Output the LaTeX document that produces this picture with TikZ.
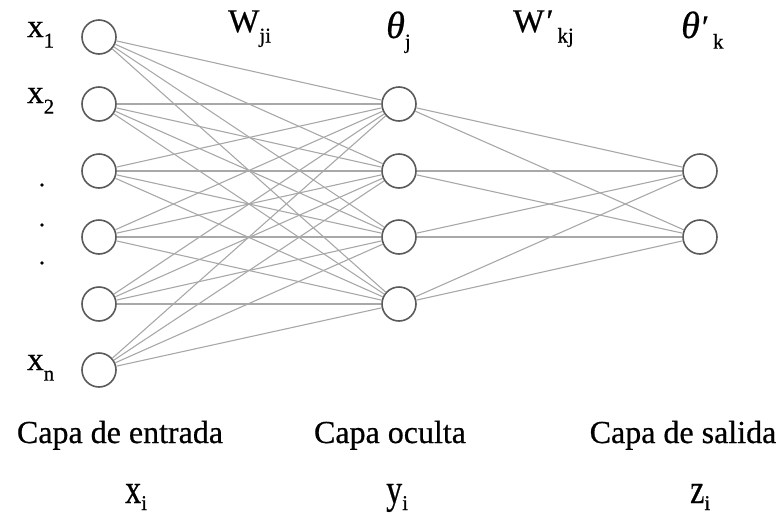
\documentclass[tikz,border=0pt]{standalone}
\usepackage{fontspec}
\setmainfont{Liberation Serif}[FakeBold=0.6]
\newcommand\lowsub[1]{\raisebox{-0.32em}{\fontsize{21}{21}\selectfont #1}}
\newcommand\botsub[1]{\raisebox{-0.22em}{\fontsize{21}{21}\selectfont #1}}
\newcommand\bigtheta{{\fontsize{38}{38}\selectfont\textit{θ}}}
\definecolor{edgegray}{HTML}{A8A8A8}
\definecolor{ringgray}{HTML}{5A5A5A}
\begin{document}
\begin{tikzpicture}[x=1pt,y=-1pt,
  neuron/.style={circle,draw=ringgray,line width=1.6pt,fill=white,minimum size=34pt,inner sep=0pt},
  link/.style={draw=edgegray,line width=1.1pt},
  lbl/.style={inner sep=0pt,anchor=base west,font=\fontsize{33}{33}\selectfont},
  layercap/.style={inner sep=0pt,anchor=base,font=\fontsize{32}{32}\selectfont},
  dotmark/.style={circle,fill=black,inner sep=0pt,minimum size=3.6pt}]
\useasboundingbox (0,0) rectangle (782,517);
% input layer
\foreach \i/\y in {1/37,2/104,3/171,4/237,5/304,6/370}
  \node[neuron] (in\i) at (99,\y) {};
% hidden layer
\foreach \j/\y in {1/104,2/171,3/237,4/304}
  \node[neuron] (h\j) at (399,\y) {};
% output layer
\foreach \k/\y in {1/171,2/237}
  \node[neuron] (o\k) at (700,\y) {};
% connections
\foreach \i in {1,...,6}
  \foreach \j in {1,...,4}
    \draw[link] (in\i) -- (h\j);
\foreach \j in {1,...,4}
  \foreach \k in {1,2}
    \draw[link] (h\j) -- (o\k);
% input labels
\node[lbl] (lx1) at (27,37) {x\lowsub{1}};
\node[lbl] (lx2) at (27,103) {x\lowsub{2}};
\node[lbl] (lxn) at (27,370) {x\lowsub{n}};
\node[dotmark] (d1) at (42,185) {};
\node[dotmark] (d2) at (42,225) {};
\node[dotmark] (d3) at (42,263) {};
% top labels
\node[lbl] (lw) at (228,32) {W\lowsub{ji}};
\node[lbl] (lt) at (386,38) {\bigtheta\lowsub{j}};
\node[lbl] (lw2) at (513,32) {W\textit{′}\,\lowsub{kj}};
\node[lbl] (lt2) at (681,38) {\bigtheta\textit{′}\,\lowsub{k}};
% bottom labels
\node[layercap] (c1) at (120,443) {Capa de entrada};
\node[layercap] (c2) at (390,443) {Capa oculta};
\node[layercap] (c3) at (683,443) {Capa de salida};
\node[layercap,anchor=base west] (v1) at (125,503) {\scalebox{1}[1.3]{x}\botsub{i}};
\node[layercap,anchor=base west] (v2) at (386,503) {\scalebox{1}[1.3]{y}\botsub{i}};
\node[layercap,anchor=base west] (v3) at (690,503) {\scalebox{1}[1.3]{z}\botsub{i}};
\end{tikzpicture}
\end{document}
